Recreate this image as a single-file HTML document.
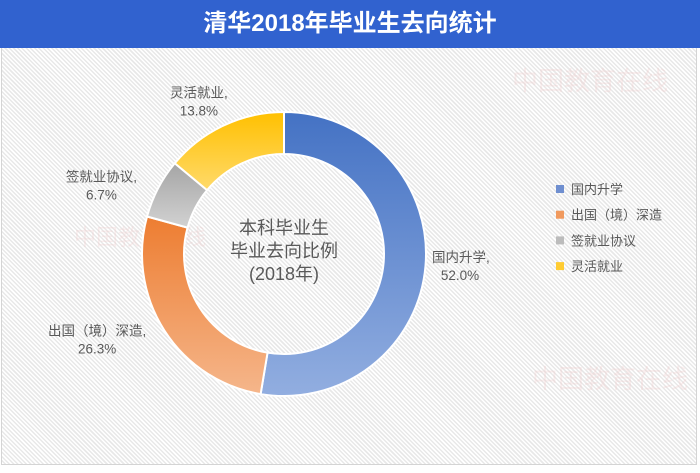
<!DOCTYPE html>
<html><head><meta charset="utf-8"><style>
body{margin:0;width:700px;height:473px;background:#fff;overflow:hidden;font-family:"Liberation Sans","Noto Sans CJK SC",sans-serif;position:relative}
#frame{position:absolute;left:1px;top:0;width:696px;height:465px;border:1px solid #d4d4d4;box-sizing:border-box;background:repeating-linear-gradient(45deg,#fff 0,#fff 1.5px,#e8e8e8 1.5px,#e8e8e8 3px)}
#hdr{position:absolute;left:0;top:0;width:700px;height:48px;background:#3162cf;color:#fff;font-weight:bold;font-size:24px;text-align:center;line-height:48px}
svg{position:absolute;left:0;top:0}
</style></head><body>
<div id="frame"></div>
<div id="hdr">清华2018年毕业生去向统计</div>
<svg id="chart" width="700" height="473">
<defs>
<linearGradient id="g0" x1="0" y1="0" x2="0" y2="1"><stop offset="0" stop-color="#4472c4"/><stop offset="1" stop-color="#92aee0"/></linearGradient>
<linearGradient id="g1" x1="0" y1="0" x2="0" y2="1"><stop offset="0" stop-color="#ed7d31"/><stop offset="1" stop-color="#f5b68b"/></linearGradient>
<linearGradient id="g2" x1="0" y1="0" x2="0" y2="1"><stop offset="0" stop-color="#a5a5a5"/><stop offset="1" stop-color="#d2d2d2"/></linearGradient>
<linearGradient id="g3" x1="0" y1="0" x2="0" y2="1"><stop offset="0" stop-color="#ffc000"/><stop offset="1" stop-color="#ffda6b"/></linearGradient>
</defs>
<text x="590" y="90" font-size="26" fill="#f0c8c8" opacity="0.3" text-anchor="middle">中国教育在线</text>
<text x="140" y="245" font-size="22" fill="#f0c8c8" opacity="0.3" text-anchor="middle">中国教育在线</text>
<text x="610" y="388" font-size="26" fill="#f0c8c8" opacity="0.3" text-anchor="middle">中国教育在线</text>
<g id="slices"></g>
<g font-size="18" fill="#595959" text-anchor="middle">
<text x="284" y="234">本科毕业生</text>
<text x="284" y="257">毕业去向比例</text>
<text x="284" y="280">(2018年)</text>
</g>
<g id="labels" font-size="13.5" fill="#595959" text-anchor="middle"></g>
<g id="legend" font-size="13" fill="#595959"></g>
</svg>
<script>
const categories=["国内升学","出国（境）深造","签就业协议","灵活就业"];
const values=[52.0,26.3,6.7,13.8];
const grads=["url(#g0)","url(#g1)","url(#g2)","url(#g3)"];
const legendColors=["#6f8fd0","#f19a5e","#bcbcbc","#ffcc33"];
const labelOffsets=[[ -0, -3],[ -12, -8],[0, 10],[18, 2]];
const cx=284,cy=254,R=142,r=100;
const NS="http://www.w3.org/2000/svg";
const total=values.reduce((a,b)=>a+b,0);
const sg=document.getElementById('slices'),lg=document.getElementById('labels'),leg=document.getElementById('legend');
function pt(a,rad){return [cx+rad*Math.sin(a),cy-rad*Math.cos(a)];}
let acc=0;
values.forEach((v,i)=>{
  const a0=acc/total*2*Math.PI;acc+=v;const a1=acc/total*2*Math.PI;
  const large=(a1-a0)>Math.PI?1:0;
  const [x0,y0]=pt(a0,R),[x1,y1]=pt(a1,R),[x2,y2]=pt(a1,r),[x3,y3]=pt(a0,r);
  const p=document.createElementNS(NS,'path');
  p.setAttribute('d',`M${x0},${y0}A${R},${R} 0 ${large} 1 ${x1},${y1}L${x2},${y2}A${r},${r} 0 ${large} 0 ${x3},${y3}Z`);
  p.setAttribute('fill',grads[i]);p.setAttribute('stroke','#fff');p.setAttribute('stroke-width','2');
  
  
  sg.appendChild(p);
  const am=(a0+a1)/2;
  let [lx,ly]=pt(am,R+30);
  const right=Math.sin(am)>0.3;
  if(right){lx=cx+R+6;}
  else if(Math.sin(am)<-0.3){lx=lx-30;}
  lx+=labelOffsets[i][0];ly+=labelOffsets[i][1];
  const anchor=right?'start':'middle';
  const t=document.createElementNS(NS,'text');
  t.setAttribute('x',lx);t.setAttribute('y',ly-3);t.setAttribute('text-anchor',anchor);
  t.textContent=categories[i]+',';
  
  
  lg.appendChild(t);
  const t2=document.createElementNS(NS,'text');
  t2.setAttribute('x',right?lx+28:lx);t2.setAttribute('y',ly+15);t2.setAttribute('text-anchor','middle');
  t2.textContent=v.toFixed(1)+'%';
  
  
  lg.appendChild(t2);
  const y=189+i*25.7;
  const s=document.createElementNS(NS,'rect');
  s.setAttribute('x',556);s.setAttribute('y',y-4);s.setAttribute('width',8);s.setAttribute('height',8);s.setAttribute('fill',legendColors[i]);
  
  
  leg.appendChild(s);
  const lt=document.createElementNS(NS,'text');
  lt.setAttribute('x',571);lt.setAttribute('y',y+5);lt.textContent=categories[i];
  
  
  leg.appendChild(lt);
});
</script>
</body></html>
